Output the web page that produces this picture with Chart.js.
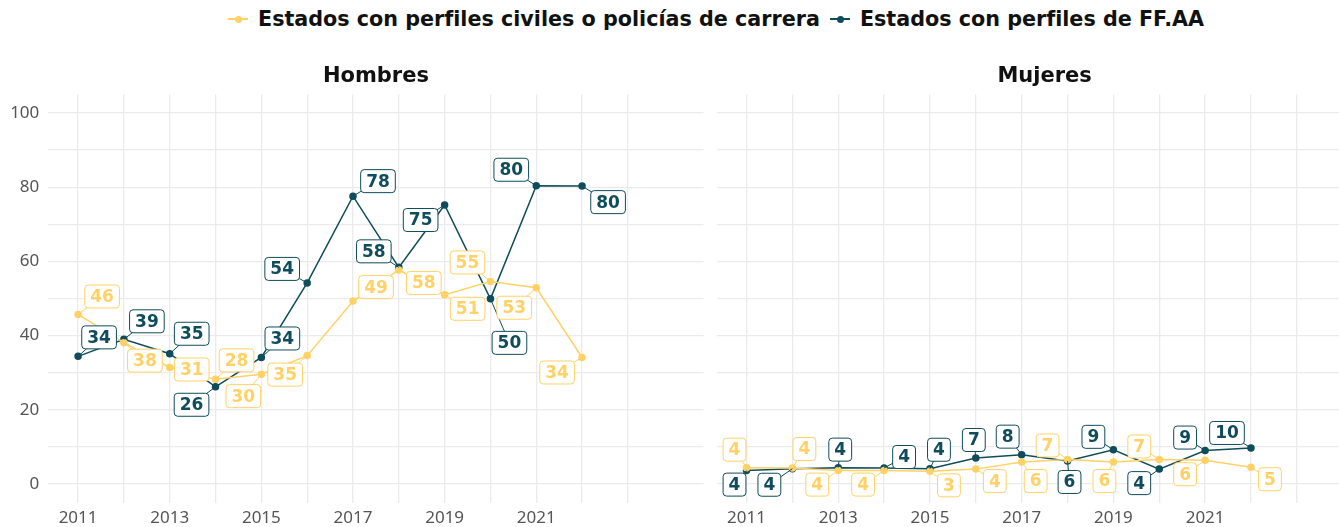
<!DOCTYPE html>
<html lang="es">
<head>
<meta charset="UTF-8">
<title>Perfiles de titulares de seguridad</title>
<script src="https://cdn.jsdelivr.net/npm/chart.js"></script>
<style>
  body { margin: 0; width: 1339px; height: 527px; overflow: hidden; background: #fff; position: relative; }
  #legend { position: absolute; top: 7px; left: 228px; display: flex; align-items: center; white-space: nowrap;
            font-family: "DejaVu Sans", sans-serif; font-weight: bold; font-size: 20.7px; color: #111; }
  .mk { position: relative; display: inline-block; width: 20px; height: 2px; margin-right: 10px; }
  .mk::after { content: ""; position: absolute; left: 7px; top: -2.5px; width: 7px; height: 7px; border-radius: 50%; background: inherit; }
  .item { display: flex; align-items: center; margin-right: 10px; }
  #izq { position: absolute; left: 0; top: 0; }
  #der { position: absolute; left: 708px; top: 0; }
</style>
</head>
<body>
<div id="legend">
  <span class="item"><span class="mk" style="background:#FFD166"></span>Estados con perfiles civiles o policías de carrera</span>
  <span class="item"><span class="mk" style="background:#0F4C5C"></span>Estados con perfiles de FF.AA</span>
</div>
<div id="izq"><canvas id="hombres" width="708" height="527"></canvas></div>
<div id="der"><canvas id="mujeres" width="669" height="527"></canvas></div>

<script>
// datos
const years = [2011, 2012, 2013, 2014, 2015, 2016, 2017, 2018, 2019, 2020, 2021, 2022];
const hombresCiviles = [45.7, 38.1, 31.4, 28.2, 29.6, 34.6, 49.3, 57.7, 51.0, 54.6, 52.9, 34.1];
const hombresFFAA = [34.4, 39.0, 35.1, 26.2, 34.1, 54.2, 77.6, 58.4, 75.2, 49.9, 80.4, 80.3];
const mujeresCiviles = [4.4, 4.3, 3.6, 3.6, 3.4, 4.0, 5.9, 6.6, 5.9, 6.6, 6.4, 4.5];
const mujeresFFAA = [3.6, 4.1, 4.4, 4.3, 4.1, 7.0, 7.9, 6.2, 9.2, 4.0, 9.0, 9.7];
const yTicks = [0, 10, 20, 30, 40, 50, 60, 70, 80, 90, 100];
const xTicks = [2011, 2012, 2013, 2014, 2015, 2016, 2017, 2018, 2019, 2020, 2021, 2022, 2023];

const colCiv = '#FFD166';
const colFF = '#0F4C5C';
const grisGrid = '#EBEBEB';

// desplazamiento de cada etiqueta respecto a su punto (px), estilo ggrepel
const offHCiv = [[24,-18],[21,18],[22,2],[21,-19],[-18,22],[-22,19],[23,-14],[25,13],[23,14],[-23,-19],[-22,20],[-25,15]];
const offHFF = [[21,-19],[23,-18],[22,-20],[-24,18],[21,-19],[-25,-14],[25,-15],[-25,-16],[-24,15],[19,44],[-25,-16],[26,16]];
const offMCiv = [[-12,-18],[12,-19],[-21,14],[-21,14],[19,14],[19,12],[14,19],[-20,-14],[-9,19],[-20,-13],[-20,14],[19,12]];
const offMFF = [[-12,14],[-23,16],[2,-18],[20,-11],[9,-19],[-2,-18],[-14,-18],[2,21],[-20,-13],[-20,14],[-20,-13],[-24,-15]];

function serie(vals) {
  return vals.map((v, i) => ({ x: years[i], y: v }));
}

function roundRect(ctx, x, y, w, h, r) {
  ctx.beginPath();
  ctx.moveTo(x + r, y);
  ctx.arcTo(x + w, y, x + w, y + h, r);
  ctx.arcTo(x + w, y + h, x, y + h, r);
  ctx.arcTo(x, y + h, x, y, r);
  ctx.arcTo(x, y, x + w, y, r);
  ctx.closePath();
}

const etiquetas = {
  id: 'etiquetas',
  afterDatasetsDraw(chart, args, opts) {
    const ctx = chart.ctx;
    const cajas = [];
    chart.data.datasets.forEach((ds, di) => {
      chart.getDatasetMeta(di).data.forEach((pt, i) => {
        const [dx, dy] = opts.offsets[di][i];
        cajas.push({ px: pt.x, py: pt.y, x: pt.x + dx, y: pt.y + dy,
                     txt: String(Math.round(ds.data[i].y)), col: ds.borderColor });
      });
    });
    ctx.save();
    ctx.font = 'bold 17px "DejaVu Sans", sans-serif';
    ctx.textAlign = 'center';
    ctx.textBaseline = 'middle';
    cajas.forEach(c => {
      ctx.strokeStyle = c.col;
      ctx.lineWidth = 1;
      ctx.beginPath();
      ctx.moveTo(c.px, c.py);
      ctx.lineTo(c.x, c.y);
      ctx.stroke();
    });
    cajas.forEach(c => {
      const w = ctx.measureText(c.txt).width + 11;
      const h = 23;
      roundRect(ctx, c.x - w / 2, c.y - h / 2, w, h, 3.5);
      ctx.fillStyle = '#fff';
      ctx.fill();
      ctx.strokeStyle = c.col;
      ctx.lineWidth = 1;
      ctx.stroke();
      ctx.fillStyle = c.col;
      ctx.fillText(c.txt, c.x, c.y + 1);
    });
    ctx.restore();
  },
  afterDraw(chart, args, opts) {
    const ctx = chart.ctx;
    const a = chart.chartArea;
    ctx.save();
    ctx.font = 'bold 21px "DejaVu Sans", sans-serif';
    ctx.fillStyle = '#111';
    ctx.textAlign = 'center';
    ctx.textBaseline = 'middle';
    ctx.fillText(opts.titulo, (a.left + a.right) / 2, 77);
    ctx.restore();
  }
};

function panel(id, civ, ff, offs, titulo, conEjeY) {
  return new Chart(document.getElementById(id), {
    type: 'line',
    data: {
      datasets: [
        { label: 'Estados con perfiles civiles o policías de carrera', data: serie(civ),
          borderColor: colCiv, backgroundColor: colCiv, borderWidth: 1.5, pointRadius: 3, pointHoverRadius: 3 },
        { label: 'Estados con perfiles de FF.AA', data: serie(ff),
          borderColor: colFF, backgroundColor: colFF, borderWidth: 1.5, pointRadius: 3, pointHoverRadius: 3 }
      ]
    },
    options: {
      responsive: false,
      animation: false,
      layout: { padding: { top: 94.5, left: 0, right: 0, bottom: 0 } },
      plugins: {
        legend: { display: false },
        tooltip: { enabled: false },
        etiquetas: { offsets: offs, titulo: titulo }
      },
      scales: {
        x: {
          type: 'linear', min: 2010.35, max: 2024.65,
          afterBuildTicks: s => { s.ticks = xTicks.map(v => ({ value: v })); },
          afterFit: s => { s.height = 24.5; },
          grid: { color: grisGrid, lineWidth: 1.3, drawTicks: false },
          border: { display: false },
          ticks: {
            autoSkip: false, maxRotation: 0, padding: 5, color: '#555555',
            font: { family: '"Noto Sans", sans-serif', size: 17 },
            callback: v => (v % 2 === 1 && v <= 2021) ? String(v) : ''
          }
        },
        y: {
          min: -5, max: 105,
          afterBuildTicks: s => { s.ticks = yTicks.map(v => ({ value: v })); },
          afterFit: s => { s.width = conEjeY ? 48.3 : 8.7; },
          grid: { color: grisGrid, lineWidth: 1.3, drawTicks: false },
          border: { display: false },
          ticks: {
            display: conEjeY, padding: 9, color: '#555555',
            font: { family: '"Noto Sans", sans-serif', size: 17 },
            callback: v => (v % 20 === 0) ? String(v) : ''
          }
        }
      }
    },
    plugins: [etiquetas]
  });
}

panel('hombres', hombresCiviles, hombresFFAA, [offHCiv, offHFF], 'Hombres', true);
panel('mujeres', mujeresCiviles, mujeresFFAA, [offMCiv, offMFF], 'Mujeres', false);
</script>
</body>
</html>
